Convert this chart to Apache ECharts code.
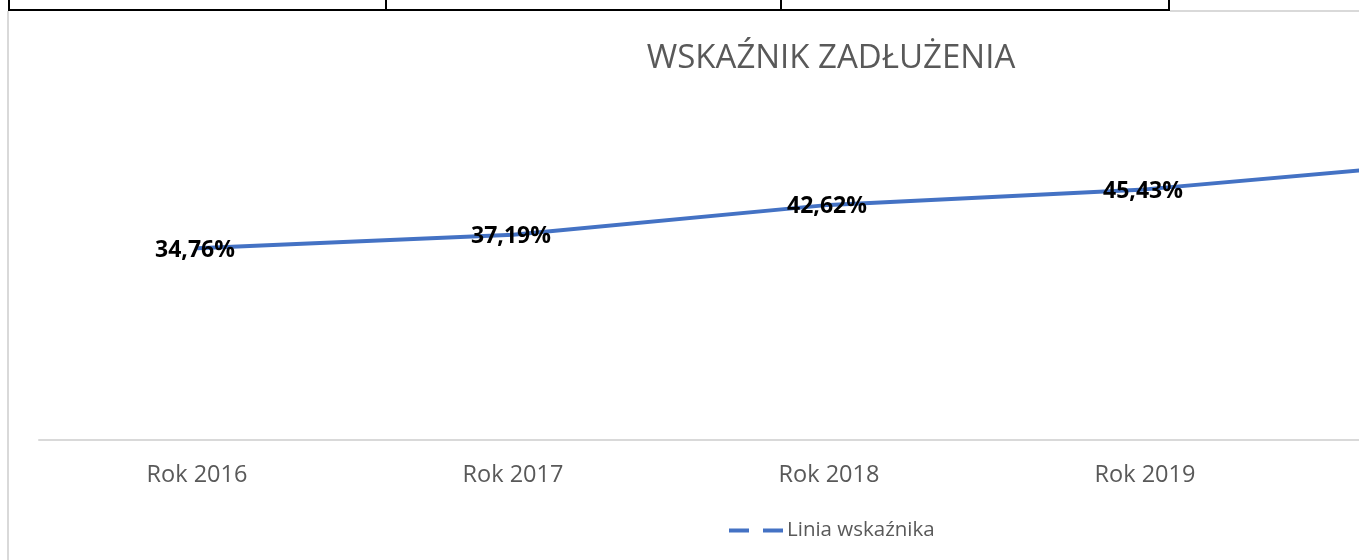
<!DOCTYPE html>
<html>
<head>
<meta charset="utf-8">
<script src="https://cdn.jsdelivr.net/npm/echarts@6/dist/echarts.min.js"></script>
<style>
    html, body { margin: 0; padding: 0; overflow: hidden; background: #fff; }
    #container { width: 1652px; height: 560px; }
</style>
</head>
<body>
<div id="container"></div>
<script>
var years = ['Rok 2016', 'Rok 2017', 'Rok 2018', 'Rok 2019', 'Rok 2020'];
var ratio = [34.76, 37.19, 42.62, 45.43, 50.5]; // ostatni punkt poza kadrem, szacowany
var seriesName = 'Linia wskaźnika';

var myChart = echarts.init(document.getElementById('container'));
var option = {
    animation: false,
    textStyle: { fontFamily: 'Open Sans' },
    title: {
        text: 'WSKAŹNIK ZADŁUŻENIA',
        left: 826,
        textAlign: 'center',
        top: 37,
        textStyle: { fontSize: 33, fontWeight: 'normal', color: '#595959', fontFamily: 'Open Sans' }
    },
    legend: {
        data: [seriesName],
        left: 724,
        top: 515,
        icon: 'path://M0,0h20v4h-20z M34,0h20v4h-20z',
        itemWidth: 54,
        itemHeight: 4,
        itemGap: 4,
        textStyle: { fontSize: 20.5, color: '#595959', fontFamily: 'Open Sans', padding: [0, 0, 0, -1] }
    },
    grid: {
        left: 39,
        right: 33,
        top: 109,
        bottom: 120
    },
    xAxis: {
        type: 'category',
        data: years,
        boundaryGap: true,
        axisLine: { lineStyle: { color: '#d9d9d9', width: 2 } },
        axisTick: { show: false },
        axisLabel: { fontSize: 23.5, color: '#595959', margin: 23 }
    },
    yAxis: {
        type: 'value',
        min: 0,
        max: 60,
        show: false,
        splitLine: { show: false }
    },
    series: [{
        name: seriesName,
        type: 'line',
        data: ratio,
        symbol: 'circle',
        symbolSize: 2,
        showSymbol: true,
        lineStyle: { color: '#4472c4', width: 4 },
        itemStyle: { color: '#4472c4' },
        label: {
            show: true,
            position: 'inside',
            offset: [-2, 2],
            fontSize: 23,
            fontWeight: 'bold',
            color: '#000',
            formatter: function (p) {
                return p.value.toFixed(2).replace('.', ',') + '%';
            }
        }
    }],
    graphic: [
        { type: 'line', shape: { x1: 8, y1: 10, x2: 1170, y2: 10 }, style: { stroke: '#000', lineWidth: 2 } },
        { type: 'line', shape: { x1: 9, y1: 0, x2: 9, y2: 10 }, style: { stroke: '#000', lineWidth: 2 } },
        { type: 'line', shape: { x1: 386, y1: 0, x2: 386, y2: 10 }, style: { stroke: '#000', lineWidth: 2 } },
        { type: 'line', shape: { x1: 781, y1: 0, x2: 781, y2: 10 }, style: { stroke: '#000', lineWidth: 2 } },
        { type: 'line', shape: { x1: 1169, y1: 0, x2: 1169, y2: 11 }, style: { stroke: '#000', lineWidth: 2 } },
        { type: 'line', shape: { x1: 1170, y1: 11, x2: 1359, y2: 11 }, style: { stroke: '#d9d9d9', lineWidth: 2 } },
        { type: 'line', shape: { x1: 8, y1: 11, x2: 8, y2: 560 }, style: { stroke: '#d9d9d9', lineWidth: 2 } }
    ]
};
myChart.setOption(option);
</script>
</body>
</html>
